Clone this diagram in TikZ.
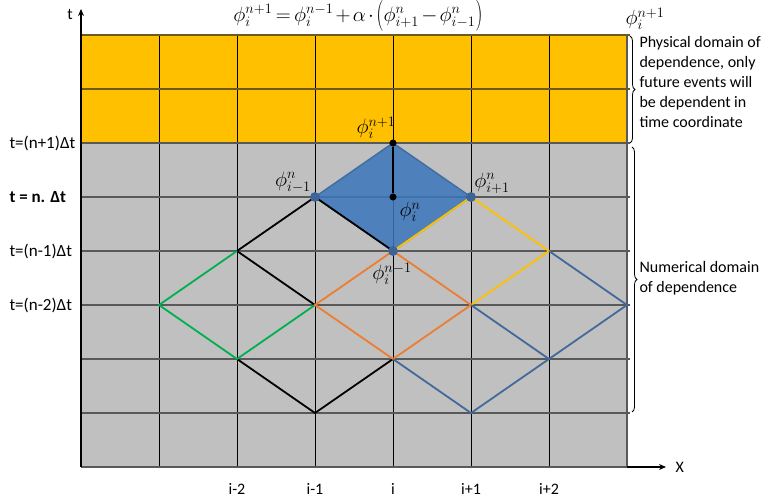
\documentclass[tikz,border=0pt]{standalone}
\usepackage{fontspec}
\setmainfont{Carlito}
\usetikzlibrary{decorations.pathreplacing,arrows.meta}
\definecolor{orangefill}{RGB}{255,192,0}
\definecolor{grayfill}{RGB}{192,192,192}
\definecolor{gridgray}{RGB}{89,89,89}
\definecolor{gridbrown}{RGB}{110,90,30}
\definecolor{phiblue}{RGB}{59,118,188}
\definecolor{phiedge}{RGB}{65,110,160}
\definecolor{dotblue}{RGB}{60,100,150}
\definecolor{lgreen}{RGB}{0,176,80}
\definecolor{lorange}{RGB}{237,125,49}
\definecolor{lyellow}{RGB}{255,192,0}
\definecolor{lblue}{RGB}{65,105,155}
\newcommand{\tallparen}[1]{\raisebox{-2.5pt}{\scalebox{1}[1.5]{$#1$}}}
\tikzset{
  dom/.style={line width=1.8pt},
  lbl/.style={font=\fontsize{16}{20}\selectfont},
  tlbl/.style={font=\fontsize{17}{20}\selectfont, anchor=west},
  phi/.style={font=\fontsize{20}{24}\selectfont, inner sep=0pt}
}
\begin{document}
\begin{tikzpicture}[x=78pt, y=54pt]
            \useasboundingbox (-81pt,-36pt) rectangle (682pt,467pt);
            \fill[orangefill] (0,6) rectangle (7,8);
            \fill[grayfill] (0,0) rectangle (7,6);
            \foreach \c in {1,...,6} \draw[black, line width=0.8pt] (\c,0) -- (\c,8);
            \draw[gridgray, line width=1.2pt] (7,0) -- (7,8);
            \foreach \r in {0,...,6} \draw[gridgray, line width=2pt] (0,\r) -- (7.04,\r);
            \draw[gridbrown, line width=2pt] (0,7) -- (7.04,7);
            \draw[gridbrown, line width=2pt] (0,8) -- (7.04,8);
            \draw[black, line width=1.2pt] (0,0) -- (0,8);

            \foreach \c in {0,...,7} {\foreach \r in {0,...,8} {\coordinate (g\c\r) at (\c,\r);}}

            \fill[phiblue, fill opacity=0.85, draw=phiedge, line width=1.5pt] (g35) -- (g46) -- (g55) -- (g44) -- cycle;

            \draw[dom, black] (g35) -- (g24) -- (g33);
            \draw[dom, black] (g35) -- (g44);
            \draw[dom, black] (g22) -- (g31) -- (g42);
            \draw[dom, lgreen] (g24) -- (g13) -- (g22) -- (g33);
            \draw[dom, lorange] (g44) -- (g33) -- (g42) -- (g53) -- cycle;
            \draw[dom, lyellow] (g44) -- (g55) -- (g64) -- (g53);
            \draw[dom, lblue] (g53) -- (g62);
            \draw[dom, lblue] (g64) -- (g73) -- (g62) -- (g51) -- (g42);

            \node[circle, fill=dotblue, inner sep=3.5pt] (dim) at (g35) {};
            \node[circle, fill=dotblue, inner sep=3.5pt] (dip) at (g55) {};
            \node[circle, fill=dotblue, inner sep=3.5pt] (dio) at (g44) {};
            \node[circle, fill, inner sep=2.5pt] (dnp) at (g46) {};
            \node[circle, fill, inner sep=2.5pt] (dn) at (g45) {};
            \draw[black, line width=2pt] (dnp) -- (dn);

            \coordinate (tfoot) at (0,8);
            \coordinate (ttip) at (0pt,458pt);
            \draw[black, line width=1.5pt, -{Stealth[length=7pt, width=6pt]}] (tfoot) -- (ttip);
            \node[lbl] (tlab) at (-11pt,452pt) {t};
            \coordinate (xfoot) at (7,0);
            \coordinate (xtip) at (585pt,0pt);
            \draw[black, line width=1.5pt, -{Stealth[length=7pt, width=6pt]}] (xfoot) -- (xtip);
            \node[lbl, anchor=west] (xlab) at (591pt,0pt) {X};

            \node[phi] (eqn) at (277pt,451pt) {\medmuskip=2mu \thickmuskip=3mu $\phi_i^{n+1}=\phi_i^{n-1}+\alpha\cdot\mathopen{\tallparen{(}}\phi_{i+1}^{n}-\phi_{i-1}^{n}\mathclose{\tallparen{)}}$};
            \node[phi] (phicorner) at (564pt,448pt) {$\phi_i^{n+1}$};

            \node[phi] (phinp) at (295pt,339pt) {$\phi_i^{n+1}$};
            \node[phi] (phim) at (212pt,285pt) {$\phi_{i-1}^{n}$};
            \node[phi] (phip) at (411pt,284pt) {$\phi_{i+1}^{n}$};
            \node[phi] (phin) at (329pt,255pt) {$\phi_i^{n}$};
            \node[phi] (phinm) at (311pt,193pt) {$\phi_i^{n-1}$};

            \node[tlbl] (tnp) at (-75pt,324pt) {t=(n+1)Δt};
            \node[tlbl] (tn) at (-75pt,270pt) {\bfseries t = n. Δt};
            \node[tlbl] (tnm) at (-75pt,216pt) {t=(n-1)Δt};
            \node[tlbl] (tnmm) at (-75pt,162pt) {t=(n-2)Δt};

            \node[lbl] (imm) at (2,-22pt) {i-2};
            \node[lbl] (im) at (3,-22pt) {i-1};
            \node[lbl] (i0) at (4,-22pt) {i};
            \node[lbl] (ip) at (5,-22pt) {i+1};
            \node[lbl] (ipp) at (6,-22pt) {i+2};

            \coordinate (b1top) at (549pt,431pt);
            \coordinate (b1bot) at (549pt,324pt);
            \draw[black, line width=0.8pt, decorate, decoration={brace, amplitude=5pt}] (b1top) -- (b1bot);
            \node[lbl, anchor=north west, align=left] (physdom) at (555pt,434pt) {Physical domain of\\dependence, only\\future events will\\be dependent in\\time coordinate};

            \coordinate (b2top) at (551pt,320pt);
            \coordinate (b2bot) at (551pt,55pt);
            \draw[black, line width=0.8pt, decorate, decoration={brace, amplitude=5pt}] (b2top) -- (b2bot);
            \node[lbl, anchor=west, align=left] (numdom) at (555pt,189pt) {Numerical domain\\of dependence};
\end{tikzpicture}
\end{document}
